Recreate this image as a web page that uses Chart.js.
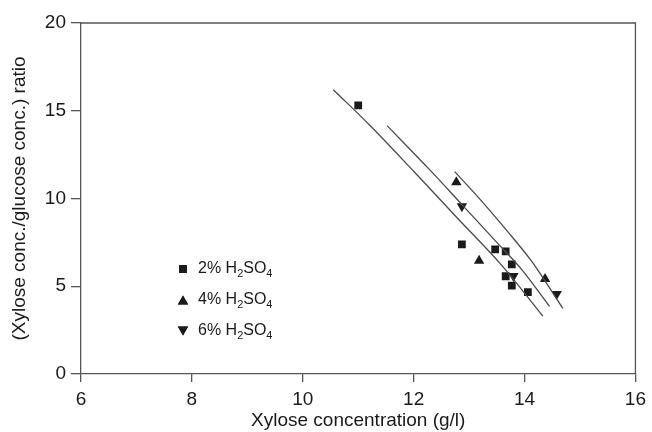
<!DOCTYPE html>
<html>
<head>
<meta charset="utf-8">
<script src="https://cdn.jsdelivr.net/npm/chart.js@4/dist/chart.umd.min.js"></script>
<style>
html,body{margin:0;padding:0;background:#fff;}
#wrap{width:652px;height:432px;position:relative;}
</style>
</head>
<body>
<div id="wrap"><canvas id="c" width="652" height="432"></canvas></div>
<script>
// ---- data ----
const xTicks = [6, 8, 10, 12, 14, 16];
const yTicks = [0, 5, 10, 15, 20];

const acid2X = [11.0, 12.87, 13.47, 13.66, 13.77, 13.66, 13.77, 14.06];
const acid2Y = [15.3, 7.39, 7.10, 6.99, 6.25, 5.57, 5.03, 4.67];
const acid4X = [12.77, 13.18, 14.37];
const acid4Y = [10.93, 6.46, 5.42];
const acid6X = [12.87, 13.80, 14.58];
const acid6Y = [9.56, 5.59, 4.56];

const fit1X = [10.55, 11.2, 12.0, 12.8, 13.6, 14.33];
const fit1Y = [16.2, 14.2, 11.55, 8.85, 6.15, 3.3];
const fit2X = [11.52, 12.3, 12.9, 13.5, 13.95, 14.45];
const fit2Y = [14.15, 11.6, 9.55, 7.5, 5.95, 3.85];
const fit3X = [12.74, 13.21, 13.7, 14.11, 14.4, 14.69];
const fit3Y = [11.53, 9.91, 8.1, 6.5, 5.15, 3.74];

const legendLabels = ["2% H", "4% H", "6% H"];

function pts(xs, ys){ return xs.map((x,i)=>({x:x, y:ys[i]})); }

const FONT = "'Liberation Sans', Arial, sans-serif";
const INK = '#1a1a1a';
const LINE = '#4a4a4a';

const boxPlugin = {
  id:'box',
  afterDraw(chart){
    const {ctx, chartArea:a} = chart;
    ctx.save();
    ctx.strokeStyle = '#555';
    ctx.lineWidth = 1.3;
    ctx.beginPath();
    ctx.moveTo(a.left, a.top); ctx.lineTo(a.right, a.top); ctx.lineTo(a.right, a.bottom);
    ctx.stroke();
    // legend
    const lx = 183, ly = [269, 300, 331];
    const styles = [['rect',0,5.5],['triangle',0,6],['triangle',180,6]];
    ctx.fillStyle = INK;
    styles.forEach((s,i)=>{
      Chart.helpers.drawPoint(ctx, {pointStyle:s[0], rotation:s[1], radius:s[2], borderWidth:0}, lx, ly[i] + (s[0]==='triangle' ? (s[1]===0 ? 1.5 : -1.5) : 0));
      ctx.fill();
    });
    ctx.textBaseline = 'middle';
    ctx.textAlign = 'left';
    legendLabels.forEach((t,i)=>{
      let x = 198; const y = ly[i];
      ctx.font = '16px ' + FONT;
      ctx.fillText(t, x, y); x += ctx.measureText(t).width;
      ctx.font = '11px ' + FONT;
      ctx.fillText('2', x, y + 5); x += ctx.measureText('2').width;
      ctx.font = '16px ' + FONT;
      ctx.fillText('SO', x, y); x += ctx.measureText('SO').width;
      ctx.font = '11px ' + FONT;
      ctx.fillText('4', x, y + 5);
    });
    ctx.restore();
  }
};

const markerDS = (label, xs, ys, style, rot, r) => ({
  label, type:'scatter', data: pts(xs, ys), showLine:false,
  pointStyle: style, rotation: rot, pointRadius: r, pointHoverRadius: r,
  backgroundColor: INK, borderColor: INK, borderWidth: 0
});
const fitDS = (label, xs, ys) => ({
  label, type:'line', data: pts(xs, ys), showLine:true, pointRadius:0,
  borderColor: LINE, borderWidth: 1.3, tension: 0.35, fill:false
});

new Chart(document.getElementById('c'), {
  type:'scatter',
  data:{ datasets:[
    fitDS('fit 2%', fit1X, fit1Y),
    fitDS('fit 6%', fit2X, fit2Y),
    fitDS('fit 4%', fit3X, fit3Y),
    markerDS('2% H2SO4', acid2X, acid2Y, 'rect', 0, 5.5),
    markerDS('4% H2SO4', acid4X, acid4Y, 'triangle', 0, 6),
    markerDS('6% H2SO4', acid6X, acid6Y, 'triangle', 180, 6)
  ]},
  options:{
    responsive:false, animation:false, devicePixelRatio:1,
    layout:{ padding:{ top:23, right:13, left:0, bottom:0 } },
    plugins:{ legend:{display:false}, tooltip:{enabled:false} },
    scales:{
      x:{
        type:'linear', min:6, max:16,
        afterBuildTicks(s){ s.ticks = xTicks.map(v=>({value:v})); },
        afterFit(s){ s.height = 58; },
        grid:{ display:true, drawOnChartArea:false, drawTicks:true, tickLength:8, color:'#555', lineWidth:1.3 },
        border:{ display:true, color:'#555', width:1.3 },
        ticks:{ color:INK, font:{family:FONT, size:19}, padding:6, maxRotation:0 },
        title:{ display:true, text:'Xylose concentration (g/l)', color:INK, font:{family:FONT, size:19}, padding:{top:0,bottom:0} }
      },
      y:{
        type:'linear', min:0, max:20,
        afterBuildTicks(s){ s.ticks = yTicks.map(v=>({value:v})); },
        afterFit(s){ s.width = 81; },
        grid:{ display:true, drawOnChartArea:false, drawTicks:true, tickLength:10, color:'#555', lineWidth:1.3 },
        border:{ display:true, color:'#555', width:1.3 },
        ticks:{ color:INK, font:{family:FONT, size:19}, padding:5 },
        title:{ display:true, text:'(Xylose conc./glucose conc.) ratio', color:INK, font:{family:FONT, size:19}, padding:{top:8,bottom:0} }
      }
    }
  },
  plugins:[boxPlugin]
});
</script>
</body>
</html>
